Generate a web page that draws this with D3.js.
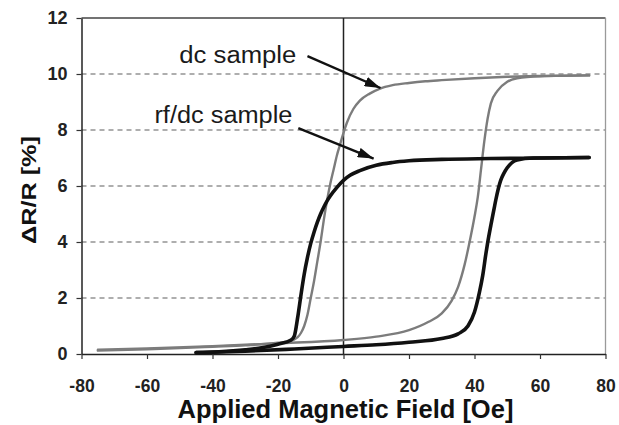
<!DOCTYPE html>
<html>
<head>
<meta charset="utf-8">
<script src="https://cdn.jsdelivr.net/npm/d3@7"></script>
<style>
  html, body { margin: 0; padding: 0; background: #fff; }
  svg { display: block; font-family: "Liberation Sans", Arial, sans-serif; }
</style>
</head>
<body>
<svg id="chart" width="619" height="425"></svg>
<script>
// Axis ticks
const xTicks = [-80, -60, -40, -20, 0, 20, 40, 60, 80];
const yTicks = [0, 2, 4, 6, 8, 10, 12];
const gridValues = [2, 4, 6, 8, 10];

// dc sample, field swept down from +75 Oe (sorted by field)
const dcDownField = [-75, -60, -50, -40, -30, -20, -16, -15, -14, -13, -12, -11, -10, -9, -8, -7, -6, -5, -4, -3, -2, -1, 0, 1, 3, 5, 8, 11, 15, 20, 25, 30, 40, 50, 60, 75];
const dcDownValue = [0.12, 0.17, 0.21, 0.26, 0.31, 0.4, 0.47, 0.52, 0.6, 0.75, 1.0, 1.4, 2.0, 2.6, 3.3, 4.0, 4.8, 5.5, 6.1, 6.6, 7.1, 7.5, 7.9, 8.25, 8.75, 9.05, 9.3, 9.47, 9.6, 9.68, 9.74, 9.78, 9.85, 9.9, 9.93, 9.95];
// dc sample, field swept up from -75 Oe
const dcUpField = [-75, -60, -40, -20, 0, 10, 20, 26, 30, 33, 35, 37, 38.5, 40, 41, 42, 43, 44, 45, 47, 50, 53, 60, 75];
const dcUpValue = [0.15, 0.2, 0.28, 0.38, 0.5, 0.62, 0.85, 1.15, 1.45, 1.9, 2.4, 3.2, 4.0, 4.9, 5.6, 6.6, 7.6, 8.4, 8.95, 9.4, 9.72, 9.85, 9.92, 9.95];

// rf/dc sample, field swept down from +75 Oe
const rfDownField = [-45, -38, -30, -25, -20, -16, -15, -14, -13, -12, -11, -10, -9, -8, -7, -6, -5, -4, -2, 0, 2, 5, 10, 15, 20, 30, 45, 60, 75];
const rfDownValue = [0.05, 0.08, 0.15, 0.22, 0.35, 0.5, 0.65, 1.3, 2.1, 2.85, 3.45, 3.95, 4.35, 4.7, 5.0, 5.25, 5.47, 5.65, 5.95, 6.2, 6.38, 6.55, 6.74, 6.84, 6.9, 6.95, 6.98, 7.0, 7.02];
// rf/dc sample, field swept up from -45 Oe
const rfUpField = [-45, -30, -15, 0, 10, 20, 30, 35, 38, 40, 41.5, 42.5, 43.5, 44, 45, 46, 46.5, 48, 49, 50, 53, 58, 75];
const rfUpValue = [0.05, 0.1, 0.18, 0.27, 0.33, 0.42, 0.55, 0.72, 1.0, 1.5, 2.2, 2.8, 3.6, 3.96, 4.6, 5.2, 5.5, 6.2, 6.46, 6.65, 6.93, 7.0, 7.02];

// Callout labels and their arrows (data units)
const calloutLabels = ["dc sample", "rf/dc sample"];
const calloutTextField = [-14.4, -15.6];
const calloutTextValue = [10.4, 8.25];
const arrowFromField = [-11, -13.8];
const arrowFromValue = [10.64, 8.07];
const arrowToField = [11.3, 9.2];
const arrowToValue = [9.5, 6.98];

const svg = d3.select("#chart");
const x = d3.scaleLinear().domain([-80, 80]).range([81.5, 605.5]);
const y = d3.scaleLinear().domain([0, 12]).range([354, 18]);

// dashed gridlines
svg.append("g").selectAll("line").data(gridValues).join("line")
  .attr("x1", x(-80)).attr("x2", x(80))
  .attr("y1", d => y(d)).attr("y2", d => y(d))
  .attr("stroke", "#5e5e5e").attr("stroke-width", 1.1)
  .attr("stroke-dasharray", "5,4");

// frame: top and right edges
svg.append("line").attr("x1", x(-80)).attr("x2", x(80)).attr("y1", y(12)).attr("y2", y(12))
  .attr("stroke", "#444").attr("stroke-width", 1.3);
svg.append("line").attr("x1", x(80)).attr("x2", x(80)).attr("y1", y(12)).attr("y2", y(0))
  .attr("stroke", "#9a9a9a").attr("stroke-width", 1.3);

// axes
const fmt = d => String(d);
const yAxis = svg.append("g").attr("transform", `translate(${x(-80)},0)`)
  .call(d3.axisLeft(y).tickValues(yTicks).tickFormat(fmt).tickSize(5).tickSizeOuter(0).tickPadding(9));
const xAxis = svg.append("g").attr("transform", `translate(0,${y(0)})`)
  .call(d3.axisBottom(x).tickValues(xTicks).tickFormat(fmt).tickSize(5).tickSizeOuter(0));
[yAxis, xAxis].forEach(g => {
  g.select(".domain").attr("stroke", "#222").attr("stroke-width", 1.5);
  g.selectAll(".tick line").attr("stroke", "#333").attr("stroke-width", 1.2);
  g.selectAll("text").attr("font-family", "Liberation Sans, Arial, sans-serif")
    .attr("font-size", 18).attr("font-weight", "bold").attr("fill", "#222");
});
xAxis.selectAll("text").attr("y", 38).attr("dy", null).attr("font-size", 17.5);

// zero-field line
svg.append("line").attr("x1", x(0)).attr("x2", x(0)).attr("y1", y(12)).attr("y2", y(0))
  .attr("stroke", "#222").attr("stroke-width", 1.5);

// hysteresis curves
const line = d3.line().x(d => x(d[0])).y(d => y(d[1])).curve(d3.curveMonotoneX);
const branches = [
  { f: dcDownField, v: dcDownValue, color: "#7c7c7c", w: 2.4 },
  { f: dcUpField, v: dcUpValue, color: "#7c7c7c", w: 2.4 },
  { f: rfDownField, v: rfDownValue, color: "#111", w: 3.6 },
  { f: rfUpField, v: rfUpValue, color: "#111", w: 3.6 }
];
svg.append("g").selectAll("path").data(branches).join("path")
  .attr("d", b => line(b.f.map((f, i) => [f, b.v[i]])))
  .attr("fill", "none").attr("stroke", b => b.color).attr("stroke-width", b => b.w)
  .attr("stroke-linejoin", "round").attr("stroke-linecap", "round");

// arrowhead marker
svg.append("defs").append("marker")
  .attr("id", "head").attr("markerUnits", "userSpaceOnUse")
  .attr("viewBox", "0 0 16 10").attr("refX", 16).attr("refY", 5)
  .attr("markerWidth", 16).attr("markerHeight", 10).attr("orient", "auto")
  .append("path").attr("d", "M0,0 L16,5 L0,10 Z").attr("fill", "#111");

// callouts
const callouts = calloutLabels.map((t, i) => ({
  t, tx: calloutTextField[i], ty: calloutTextValue[i],
  x1: arrowFromField[i], y1: arrowFromValue[i], x2: arrowToField[i], y2: arrowToValue[i]
}));
svg.append("g").selectAll("line").data(callouts).join("line")
  .attr("x1", d => x(d.x1)).attr("y1", d => y(d.y1))
  .attr("x2", d => x(d.x2)).attr("y2", d => y(d.y2))
  .attr("stroke", "#111").attr("stroke-width", 2.4).attr("marker-end", "url(#head)");
const textWidths = [117, 138];
svg.append("g").selectAll("text").data(callouts).join("text")
  .attr("x", d => x(d.tx)).attr("y", d => y(d.ty))
  .attr("text-anchor", "end").attr("font-size", 23).attr("fill", "#1a1a1a")
  .attr("textLength", (d, i) => textWidths[i]).attr("lengthAdjust", "spacingAndGlyphs")
  .text(d => d.t);

// axis titles
svg.append("text").attr("x", (x(-80) + x(80)) / 2 + 2).attr("y", 418)
  .attr("text-anchor", "middle").attr("font-size", 25.5).attr("font-weight", "bold").attr("fill", "#111")
  .text("Applied Magnetic Field [Oe]");
svg.append("text").attr("transform", `translate(36,${(y(0) + y(12)) / 2 + 4}) rotate(-90)`)
  .attr("text-anchor", "middle").attr("font-size", 21).attr("font-weight", "bold").attr("fill", "#111")
  .attr("textLength", 108).attr("lengthAdjust", "spacingAndGlyphs")
  .text("ΔR/R [%]");
</script>
</body>
</html>
